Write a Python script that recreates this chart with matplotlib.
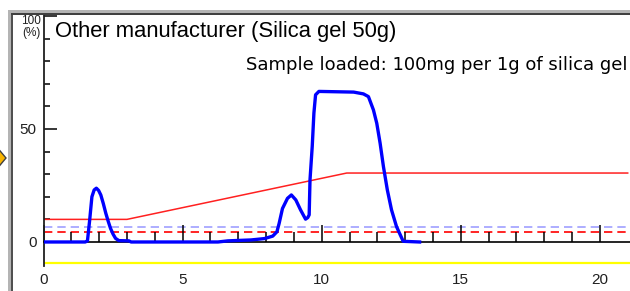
import numpy as np
import matplotlib
matplotlib.use('Agg')
import matplotlib.pyplot as plt
from matplotlib.patches import Rectangle, Polygon

# chromatogram trace (time in min, detector %)
trace_t = [0.0, 1.50, 1.58, 1.66, 1.74, 1.82, 1.90, 1.98, 2.06, 2.15, 2.24, 2.33, 2.41, 2.50, 2.59,
           2.71, 3.07, 3.15, 6.27, 6.63, 7.46, 7.94, 8.24, 8.39, 8.47, 8.59, 8.77, 8.91, 9.07,
           9.24, 9.42, 9.50, 9.55, 9.58, 9.66, 9.72, 9.78, 9.90, 11.15, 11.50, 11.68, 11.86,
           11.98, 12.10, 12.22, 12.36, 12.51, 12.69, 12.93, 13.52]
trace_y = [0.0, 0.0, 0.5, 9.7, 20.0, 23.0, 23.8, 22.8, 20.8, 17.0, 12.7, 9.0, 6.0, 3.5, 1.6,
           0.6, 0.5, 0.0, 0.0, 0.5, 0.9, 1.5, 2.6, 4.5, 8.2, 14.8, 19.3, 20.8, 18.6,
           14.2, 10.1, 10.8, 12.0, 27.5, 42.3, 57.0, 65.1, 66.6, 66.3, 65.5, 64.3, 58.4,
           52.5, 43.7, 33.3, 23.0, 14.2, 6.8, 0.3, 0.0]

# solvent gradient (red)
grad_t = [0.0, 3.0, 10.9, 21.0]
grad_y = [10.0, 10.0, 30.5, 30.5]

# threshold / reference levels
level_blue = 6.5
level_red = 4.5
level_yellow = -9.5

W, H = 630, 291
fig = plt.figure(figsize=(6.3, 2.91), dpi=100)
fig.patch.set_facecolor('white')

ax = fig.add_axes([43.5 / W, 25.5 / H, 1.0 - 43.5 / W + 0.01, 250.5 / H])
ax.set_xlim(0, (W - 43.5) / 28.05 + 0.4)
ax.set_ylim(-10.4, 100.4)

ax.axhline(level_yellow, color='#ffff00', lw=1.6, zorder=1)
ax.axhline(level_blue, color='#a0a0ff', lw=1.2, ls=(0, (5, 3)), zorder=1)
ax.axhline(level_red, color='#ff0000', lw=1.2, ls=(0, (5, 3)), zorder=1)
ax.plot(grad_t, grad_y, color='#ff2020', lw=1.1, zorder=2)
ax.plot(trace_t, trace_y, color='#0000ff', lw=2.4, zorder=4, solid_joinstyle='round')

# axes styling
for s in ['top', 'right']:
    ax.spines[s].set_visible(False)
ax.spines['bottom'].set_position(('data', 0))
ax.spines['bottom'].set_linewidth(1.2)
ax.spines['left'].set_linewidth(1.3)
ax.spines['left'].set_color('#202020')

ax.set_xticks([0, 5, 10, 15, 20])
ax.set_xticks(np.arange(0, 21, 1), minor=True)
ax.set_yticks([0, 50, 100])
ax.set_yticklabels(['0', '50', ''])
ax.set_yticks(np.arange(0, 101, 10), minor=True)
ax.tick_params(axis='x', which='major', direction='in', length=12, width=1.1,
               pad=22, labelsize=11)
ax.tick_params(axis='x', which='minor', direction='in', length=7.5, width=1.1)
ax.tick_params(axis='y', which='major', direction='in', length=9, width=1.1,
               pad=5, labelsize=11)
ax.tick_params(axis='y', which='minor', direction='in', length=4.5, width=1.1)
for lab in ax.get_xticklabels() + ax.get_yticklabels():
    lab.set_fontfamily('Liberation Sans')
    lab.set_color('#202020')

# window frame decorations
fig.add_artist(Rectangle((8 / W, 0), 4 / W, 1 - 10 / H, transform=fig.transFigure,
                         color='#b4b4b4', lw=0))
fig.add_artist(Rectangle((11 / W, 0), 1.5 / W, 1 - 13 / H, transform=fig.transFigure,
                         color='#505050', lw=0))
fig.add_artist(Rectangle((8 / W, 1 - 13 / H), 1 - 8 / W, 3 / H, transform=fig.transFigure,
                         color='#b4b4b4', lw=0))
fig.add_artist(Rectangle((11 / W, 1 - 15 / H), 1 - 11 / W, 2.2 / H, transform=fig.transFigure,
                         color='#404040', lw=0))
fig.add_artist(Polygon([(-4 / W, 1 - 146 / H), (6 / W, 1 - 158 / H), (-4 / W, 1 - 170 / H)],
                       closed=True, transform=fig.transFigure, facecolor='#f8b400',
                       edgecolor='#404040', lw=1))

fig.text(41 / W, 1 - 15.5 / H, '100', ha='right', va='top', fontsize=8.5,
         family='Liberation Sans', color='#202020')
fig.text(41 / W, 1 - 27 / H, '(%)', ha='right', va='top', fontsize=8.5,
         family='Liberation Sans', color='#202020')
fig.text(55 / W, 1 - 32 / H, 'Other manufacturer (Silica gel 50g)', ha='left', va='center',
         fontsize=15.8, family='Liberation Sans', color='black')
fig.text(627 / W, 1 - 65 / H, 'Sample loaded: 100mg per 1g of silica gel', ha='right',
         va='center', fontsize=13, family='DejaVu Sans', color='black')

fig.savefig('out.png', dpi=100)
